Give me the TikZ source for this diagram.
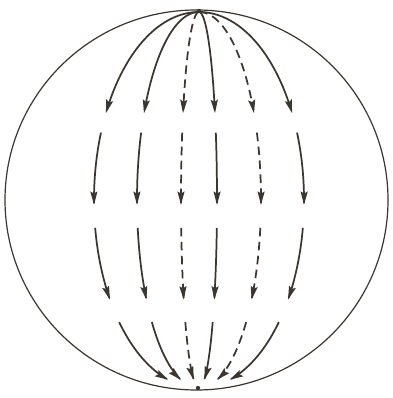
\documentclass[tikz,border=0pt]{standalone}
\usetikzlibrary{arrows.meta}
\definecolor{ink}{HTML}{3B3630}
\begin{document}
\begin{tikzpicture}[x=0.75pt,y=-0.75pt,
  meridian/.style={draw=ink,line width=1.3pt,-{Stealth[length=10pt,width=5.2pt,inset=1.5pt]}},
  dashline/.style={dash pattern=on 6.5pt off 4pt},
  fullline/.style={solid},
  globe/.style={draw=ink,line width=0.9pt},
  pole/.style={circle,fill=ink,inner sep=0pt,minimum size=3.2pt}]
\useasboundingbox (0,0) rectangle (392,398);
\fill[white] (0,0) rectangle (392,398);
\draw[globe] (196.5,200) ellipse [x radius=191.5,y radius=190];
\coordinate (N) at (199,11);
\coordinate (S) at (198,388);
\foreach \a/\s in {-105/fullline,-62/fullline,-18/dashline,18/fullline,62/dashline,105/fullline}{
  \foreach \ta/\tb in {0/62.5,69/91.5,98.5/122,130.5/163}{
    \draw[meridian,\s] plot[domain=\ta:\tb,samples=40,smooth,variable=\t]
      ({199+\a*sin(\t)},{200-188*cos(\t)});
  }
}
\node[pole] (n) at (N) {};
\node[pole] (s) at (S) {};
\end{tikzpicture}
\end{document}
